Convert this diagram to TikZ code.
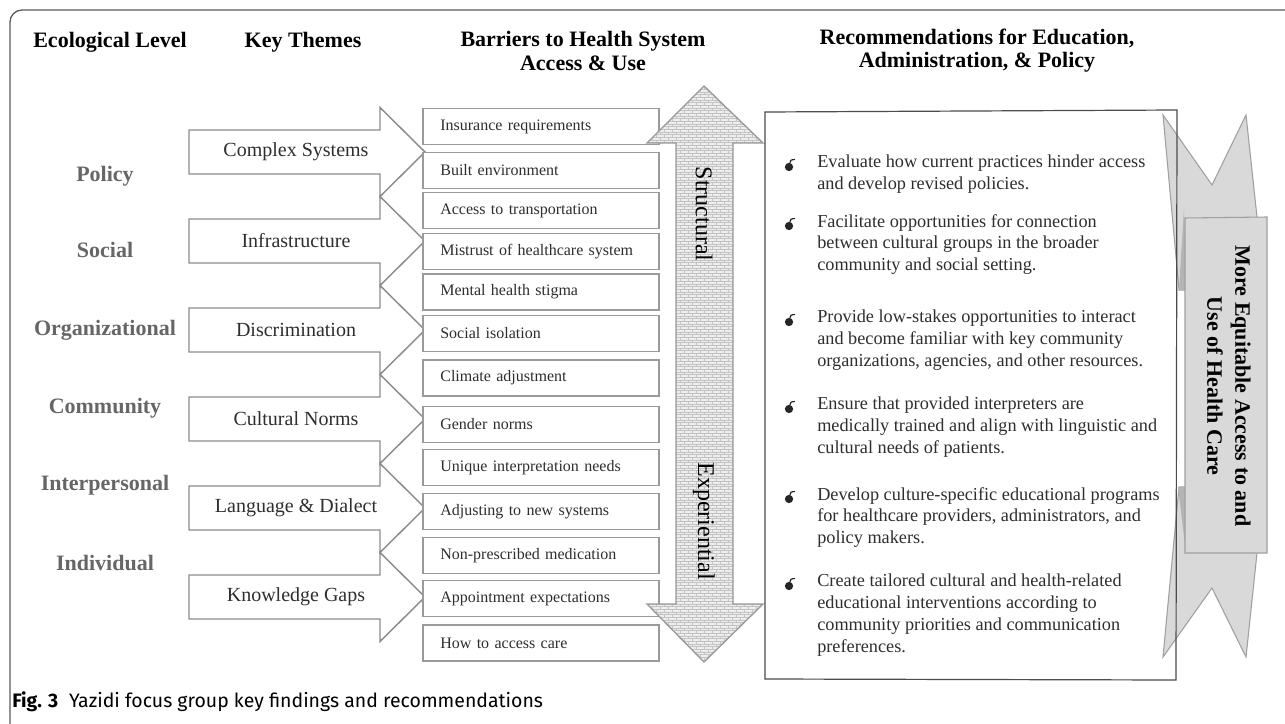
\documentclass[tikz,border=0pt]{standalone}
\usepackage{fontspec}
\setmainfont{Liberation Serif}
\newfontfamily\capfont{Fira Sans}
\usetikzlibrary{patterns}
\pgfdeclarepatternformonly{smallbricks}{\pgfpoint{-0.5pt}{-0.5pt}}{\pgfpoint{6.5pt}{4.5pt}}{\pgfpoint{6pt}{4pt}}{%
  \pgfsetlinewidth{0.35pt}%
  \pgfpathmoveto{\pgfpoint{0pt}{0pt}}\pgfpathlineto{\pgfpoint{6pt}{0pt}}%
  \pgfpathmoveto{\pgfpoint{0pt}{2pt}}\pgfpathlineto{\pgfpoint{6pt}{2pt}}%
  \pgfpathmoveto{\pgfpoint{0pt}{0pt}}\pgfpathlineto{\pgfpoint{0pt}{2pt}}%
  \pgfpathmoveto{\pgfpoint{3pt}{2pt}}\pgfpathlineto{\pgfpoint{3pt}{4pt}}%
  \pgfusepath{stroke}}
\definecolor{framec}{HTML}{5A5A5A}
\definecolor{arrowgray}{HTML}{8C8C8C}
\definecolor{boxgray}{HTML}{9A9A9A}
\definecolor{txtgray}{HTML}{2E2E2E}
\definecolor{ecogray}{HTML}{666666}
\definecolor{bandfill}{HTML}{D9D9D9}
\definecolor{bandline}{HTML}{A0A0A0}
\definecolor{wedge}{HTML}{B4B4B4}
\definecolor{brickbg}{HTML}{EDEDED}
\definecolor{brickline}{HTML}{C4C4C4}
\begin{document}
\begin{tikzpicture}[x=0.75pt,y=-0.75pt,
  themearrow/.style={draw=arrowgray, line width=1.1pt, fill=white, line join=miter},
  themetext/.style={font=\fontsize{15}{18}\selectfont, text=txtgray, inner sep=0pt},
  eco/.style={font=\bfseries\fontsize{16.5}{20}\selectfont, text=ecogray, inner sep=0pt},
  header/.style={font=\bfseries\fontsize{16.5}{17.3}\selectfont, align=center, inner sep=0pt},
  barrier/.style={draw=boxgray, line width=1.2pt, fill=white, minimum height=27pt,
    text width=151pt, inner xsep=13pt, inner ysep=0pt, align=left,
    font=\fontsize{12}{14}\selectfont, text=txtgray},
  rectext/.style={anchor=north west, inner sep=0pt, align=left,
    font=\fontsize{13.7}{16.3}\selectfont, text=txtgray},
  sidetext/.style={rotate=-90, font=\fontsize{18}{20}\selectfont, inner sep=0pt},
  bulletdot/.style={fill=black!85},
  bullethook/.style={draw=black!85, line width=0.9pt, line cap=round},
]
\useasboundingbox (0,0) rectangle (1285,724);
\fill[white] (0,0) rectangle (1285,724);

% outer frame
\draw[framec, line width=1pt, rounded corners=9pt] (1300,10) -- (10,10) -- (10,736) -- (40,736);

% headers
\node[header] (hEco) at (110,42) {Ecological Level};
\node[header] (hKey) at (303,42) {Key Themes};
\node[header] (hBar) at (583,51) {Barriers to Health System\\Access \& Use};
\node[header] (hRec) at (977,51) {Recommendations for Education,\\Administration, \& Policy};

% ecological levels
\node[eco] (ePol) at (105,176) {Policy};
\node[eco] (eSoc) at (105,250) {Social};
\node[eco] (eOrg) at (105,330) {Organizational};
\node[eco] (eCom) at (105,408) {Community};
\node[eco] (eInt) at (105,485) {Interpersonal};
\node[eco] (eInd) at (105,563) {Individual};

% theme arrows
\foreach \c/\t/\n in {152/Complex Systems/t1, 241/Infrastructure/t2, 330/Discrimination/t3,
                      419/Cultural Norms/t4, 508/Language \& Dialect/t5, 597/Knowledge Gaps/t6}{
  \draw[themearrow] (189,{\c-22}) -- (380,{\c-22}) -- (380,{\c-44.5}) -- (425,\c)
     -- (380,{\c+44.5}) -- (380,{\c+22}) -- (189,{\c+22}) -- cycle;
  \node[themetext] (\n) at (296,\c) {\t};
}

% barrier boxes
\foreach \c/\t/\n in {126.5/Insurance requirements/b1, 170.5/Built environment/b2,
   210.5/Access to transportation/b3, 251.5/Mistrust of healthcare system/b4,
   292/Mental health stigma/b5, 333.5/Social isolation/b6, 378/Climate adjustment/b7,
   424.5/Gender norms/b8, 467.5/Unique interpretation needs/b9, 511.5/Adjusting to new systems/b10,
   555.5/Non-prescribed medication/b11, 598.5/Appointment expectations/b12, 643/How to access care/b13}{
  \node[barrier] (\n) at (541,\c) {\t};
}

% double arrow
\draw[draw=boxgray, line width=1pt, preaction={fill=brickbg}, pattern=smallbricks, pattern color=brickline]
  (704,86) -- (763,143) -- (733,143) -- (733,604) -- (763,604) -- (704,662)
  -- (647,604) -- (676,604) -- (676,143) -- (647,143) -- cycle;
\node[sidetext] (struct) at (704,214) {Structural};
\node[sidetext] (exper) at (704,521) {Experiential};

% ribbon
\draw[fill=bandfill, draw=bandline, line width=0.8pt]
  (1163,115) -- (1212,185) -- (1246,115) -- (1257,217) -- (1257,553) -- (1246,657)
  -- (1212,588) -- (1163,657) -- (1179,487) -- (1186,487) -- (1186,290) -- (1179,290) -- cycle;
\fill[wedge] (1184,208) -- (1186,290) -- (1179,290) -- cycle;
\fill[wedge] (1178,487) -- (1186,487) -- (1186,553) -- cycle;
\draw[fill=bandfill, draw=bandline, line width=0.8pt]
  (1185,218) -- (1267,217) -- (1267,553) -- (1185,553) -- cycle;
\node[rotate=-90, align=center, inner sep=0pt, font=\bfseries\fontsize{16.5}{21}\selectfont] (goal) at (1229,386)
  {More Equitable Access to and\\Use of Health Care};

% recommendations box
\draw[draw=black!70, line width=0.9pt] (765,112) -- (1177,110) -- (1176,680) -- (765,679) -- cycle;

\foreach \yy/\n/\t in {
  155/r1/{Evaluate how current practices hinder access\\and develop revised policies.},
  214/r2/{Facilitate opportunities for connection\\between cultural groups in the broader\\community and social setting.},
  310/r3/{Provide low-stakes opportunities to interact\\and become familiar with key community\\organizations, agencies, and other resources.},
  397/r4/{Ensure that provided interpreters are\\medically trained and align with linguistic and\\cultural needs of patients.},
  487/r5/{Develop culture-specific educational programs\\for healthcare providers, administrators, and\\policy makers.},
  574/r6/{Create tailored cultural and health-related\\educational interventions according to\\community priorities and communication\\preferences.}}{
  \node[rectext] (\n) at (817,\yy) {\t};
  \fill[bulletdot] (789,{\yy+12}) circle (3.1pt);
  \draw[bullethook] (790,{\yy+8}) .. controls (790.5,{\yy+5}) .. (794.5,{\yy+4.5});
}

% caption
\node[anchor=base west, inner sep=0pt, font=\capfont\fontsize{14.6}{17}\selectfont] (cap) at (12,707)
  {\textbf{Fig. 3}\hspace{0.55em}Yazidi focus group key findings and recommendations};
\end{tikzpicture}
\end{document}
